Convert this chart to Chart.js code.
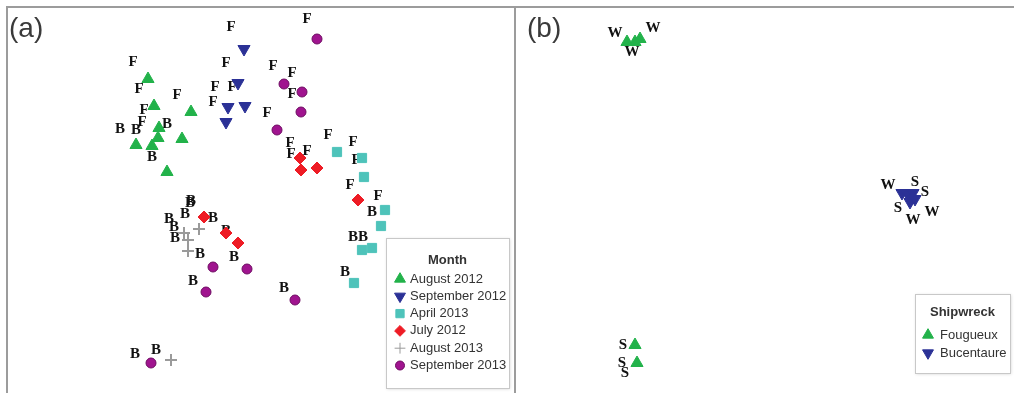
<!DOCTYPE html>
<html>
<head>
<meta charset="utf-8">
<script src="https://cdn.jsdelivr.net/npm/chart.js@4.4.1/dist/chart.umd.min.js"></script>
<style>
body { margin: 0; background: #fff; width: 1014px; height: 393px; overflow: hidden; position: relative; }
canvas { position: absolute; top: 0; }
#chartA { left: 0; }
#chartB { left: 515px; }
.line { position: absolute; background: #9c9c9c; }
.tag { position: absolute; font: 28px 'Liberation Sans', Arial, sans-serif; color: #3a3a3a; }
</style>
</head>
<body>
<canvas id="chartA" width="515" height="393"></canvas>
<canvas id="chartB" width="499" height="393"></canvas>
<div class="line" style="left:6px;top:6px;width:1008px;height:2px"></div>
<div class="line" style="left:6px;top:6px;width:2px;height:387px"></div>
<div class="line" style="left:514px;top:6px;width:2px;height:387px"></div>
<div class="tag" style="left:9px;top:12px">(a)</div>
<div class="tag" style="left:527px;top:12px">(b)</div>
<script>
// panel (a): ordination scores by month
const aug2012X = [148, 154, 191, 159, 158, 136, 152, 182, 167];
const aug2012Y = [314, 287, 281, 265, 255, 248, 247, 254, 221];
const sep2012X = [244, 238, 228, 245, 226];
const sep2012Y = [344, 310, 286, 287, 271];
const apr2013X = [337, 362, 364, 385, 381, 372, 362, 354];
const apr2013Y = [241, 235, 216, 183, 167, 145, 143, 110];
const jul2012X = [300, 301, 317, 358, 204, 226, 238];
const jul2012Y = [235, 223, 225, 193, 176, 160, 150];
const aug2013X = [199, 184, 188, 188, 171];
const aug2013Y = [164, 160, 153, 142, 33];
const sep2013X = [317, 284, 302, 301, 277, 213, 247, 206, 295, 151];
const sep2013Y = [354, 309, 301, 281, 263, 126, 124, 101, 93, 30];

// site letters (F = Fougueux, B = Bucentaure) in panel (a)
const labelTextA = ['F','F','F','F','F','F','F','F','F','F','F','F','F','F','F','F','F','F','F','F','F','F','F',
                    'B','B','B','B','B','B','B','B','B','B','B','B','B','B','B','B','B','B','B','B','B','B'];
const labelXA = [133, 139, 177, 144, 142, 231, 226, 215, 232, 213, 307, 273, 292, 292, 267, 290, 291, 307, 350, 328, 353, 356, 378,
                 120, 136, 167, 152, 190, 191, 185, 169, 174, 175, 213, 226, 200, 234, 193, 284, 135, 156, 372, 353, 363, 345];
const labelYA = [331, 304, 298, 283, 271, 366, 330, 306, 306, 291, 374, 327, 320, 299, 280, 250, 239, 242, 208, 258, 251, 233, 197,
                 264, 263, 269, 236, 190, 192, 179, 174, 166, 155, 175, 162, 139, 136, 112, 105, 39, 43, 181, 156, 156, 121];

// panel (b): ordination scores by shipwreck
const fougueuxX = [627, 635, 640, 635, 637];
const fougueuxY = [351, 351, 354, 48, 30];
const bucentaureX = [902, 908, 913, 910, 915];
const bucentaureY = [200, 198, 200, 191, 194];

// season letters (W / S) in panel (b)
const labelTextB = ['W','W','W','W','S','S','S','W','W','S','S','S'];
const labelXB = [615, 653, 632, 888, 915, 925, 898, 913, 932, 623, 622, 625];
const labelYB = [360, 365, 341, 208, 211, 201, 185, 173, 181, 48, 30, 20];

function pts(xs, ys) {
    return xs.map((x, i) => ({x: x, y: ys[i]}));
}

const letterLabels = {
    id: 'letterLabels',
    beforeDatasetsDraw(chart) {
        const ctx = chart.ctx;
        ctx.save();
        ctx.font = 'bold 15px "Liberation Serif", "Times New Roman", serif';
        ctx.fillStyle = '#111';
        ctx.textAlign = 'center';
        ctx.textBaseline = 'middle';
        chart.data.datasets.forEach((ds, i) => {
            if (!ds.textLabels) return;
            chart.getDatasetMeta(i).data.forEach((el, j) => {
                ctx.fillText(ds.textLabels[j], el.x, el.y);
            });
        });
        ctx.restore();
    }
};

const boxLegend = {
    id: 'boxLegend',
    afterDraw(chart, args, opts) {
        const ctx = chart.ctx;
        ctx.save();
        ctx.shadowColor = 'rgba(0,0,0,0.18)';
        ctx.shadowBlur = 3;
        ctx.shadowOffsetX = 1;
        ctx.shadowOffsetY = 1;
        ctx.fillStyle = '#fff';
        ctx.fillRect(opts.x, opts.y, opts.w, opts.h);
        ctx.shadowColor = 'transparent';
        ctx.strokeStyle = '#c8c8c8';
        ctx.lineWidth = 1;
        ctx.strokeRect(opts.x + 0.5, opts.y + 0.5, opts.w, opts.h);

        ctx.fillStyle = '#333';
        ctx.textBaseline = 'middle';
        ctx.textAlign = 'center';
        ctx.font = 'bold 13px "Liberation Sans", Arial, sans-serif';
        ctx.fillText(opts.title, opts.x + opts.w / 2, opts.titleY);

        ctx.textAlign = 'left';
        ctx.font = '13px "Liberation Sans", Arial, sans-serif';
        let row = 0;
        chart.data.datasets.forEach(ds => {
            if (ds.textLabels) return;
            const y = opts.firstY + row * opts.step;
            ctx.fillStyle = ds.backgroundColor;
            ctx.strokeStyle = ds.borderColor;
            Chart.helpers.drawPoint(ctx, {
                pointStyle: ds.pointStyle,
                rotation: ds.rotation || 0,
                radius: ds.pointRadius * 0.9,
                borderWidth: ds.borderWidth
            }, opts.markerX, y);
            ctx.fillStyle = '#333';
            ctx.fillText(ds.label, opts.textX, y);
            row++;
        });
        ctx.restore();
    }
};

function baseOptions(xmin, xmax, legend) {
    return {
        responsive: false,
        animation: false,
        layout: { padding: 0, autoPadding: false },
        scales: {
            x: { type: 'linear', display: false, min: xmin, max: xmax },
            y: { type: 'linear', display: false, min: 0, max: 393 }
        },
        plugins: {
            legend: { display: false },
            tooltip: { enabled: false },
            boxLegend: legend
        }
    };
}

const chartA = new Chart(document.getElementById('chartA'), {
    type: 'scatter',
    data: {
        datasets: [
            { label: 'August 2012', data: pts(aug2012X, aug2012Y), pointStyle: 'triangle', pointRadius: 7,
              backgroundColor: '#22b24a', borderColor: '#22b24a', borderWidth: 1 },
            { label: 'September 2012', data: pts(sep2012X, sep2012Y), pointStyle: 'triangle', rotation: 180, pointRadius: 7,
              backgroundColor: '#2b3196', borderColor: '#2b3196', borderWidth: 1 },
            { label: 'April 2013', data: pts(apr2013X, apr2013Y), pointStyle: 'rect', pointRadius: 6.5,
              backgroundColor: '#4ec3ba', borderColor: '#4ec3ba', borderWidth: 1 },
            { label: 'July 2012', data: pts(jul2012X, jul2012Y), pointStyle: 'rectRot', pointRadius: 6,
              backgroundColor: '#ee1c25', borderColor: '#ee1c25', borderWidth: 1 },
            { label: 'August 2013', data: pts(aug2013X, aug2013Y), pointStyle: 'cross', pointRadius: 6,
              backgroundColor: '#9a9a9a', borderColor: '#9a9a9a', borderWidth: 2 },
            { label: 'September 2013', data: pts(sep2013X, sep2013Y), pointStyle: 'circle', pointRadius: 5,
              backgroundColor: '#a0148f', borderColor: '#6e0c62', borderWidth: 1 },
            { label: 'sites', data: pts(labelXA, labelYA), textLabels: labelTextA, pointRadius: 0 }
        ]
    },
    options: baseOptions(0, 515, {
        title: 'Month', x: 386, y: 238, w: 123, h: 150, titleY: 260,
        markerX: 400, textX: 410, firstY: 279, step: 17.3
    }),
    plugins: [letterLabels, boxLegend]
});

const chartB = new Chart(document.getElementById('chartB'), {
    type: 'scatter',
    data: {
        datasets: [
            { label: 'Fougueux', data: pts(fougueuxX, fougueuxY), pointStyle: 'triangle', pointRadius: 7,
              backgroundColor: '#22b24a', borderColor: '#22b24a', borderWidth: 1 },
            { label: 'Bucentaure', data: pts(bucentaureX, bucentaureY), pointStyle: 'triangle', rotation: 180, pointRadius: 7,
              backgroundColor: '#2b3196', borderColor: '#2b3196', borderWidth: 1 },
            { label: 'seasons', data: pts(labelXB, labelYB), textLabels: labelTextB, pointRadius: 0 }
        ]
    },
    options: baseOptions(515, 1014, {
        title: 'Shipwreck', x: 400, y: 294, w: 95, h: 79, titleY: 312,
        markerX: 413, textX: 425, firstY: 335, step: 18
    }),
    plugins: [letterLabels, boxLegend]
});
</script>
</body>
</html>
